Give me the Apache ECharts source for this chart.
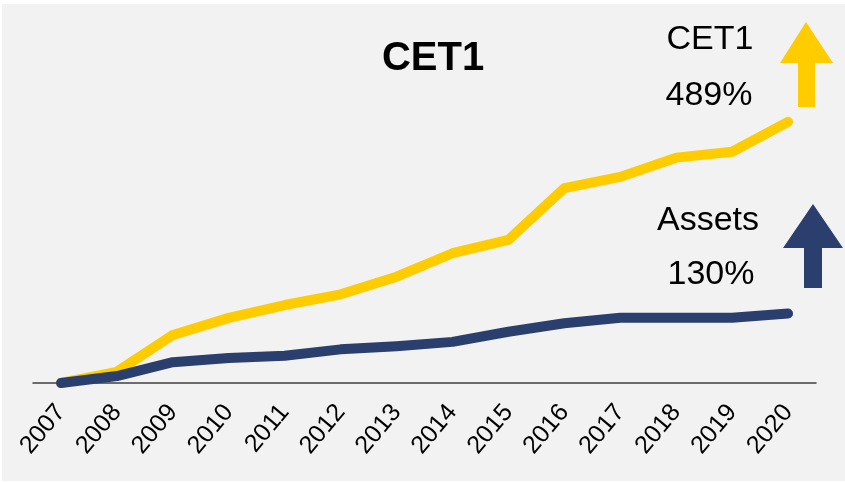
<!DOCTYPE html>
<html>
<head>
<meta charset="utf-8">
<script src="https://cdn.jsdelivr.net/npm/echarts@6/dist/echarts.min.js"></script>
<style>
  html, body { margin: 0; padding: 0; background: #fff; }
  #chart { width: 845px; height: 483px; }
</style>
</head>
<body>
<div id="chart"></div>
<script>
var years = ['2007', '2008', '2009', '2010', '2011', '2012', '2013',
             '2014', '2015', '2016', '2017', '2018', '2019', '2020'];
// 2007 = 0%, growth since 2007
var cet1 = [0, 21, 90, 122, 146, 166, 199, 243, 268, 365, 386, 422, 433, 489];
var assets = [0, 13, 39, 47, 51, 63, 69, 77, 96, 112, 122, 122, 122, 130];

var fontName = 'Liberation Sans, Arial, sans-serif';
var yellow = '#FFCC00';
var navy = '#2B3F6E';

var chart = echarts.init(document.getElementById('chart'));

var option = {
    backgroundColor: '#ffffff',
    animation: false,
    grid: {
        left: 33,
        right: 29,
        top: 116,
        bottom: 100
    },
    xAxis: {
        type: 'category',
        data: years,
        boundaryGap: true,
        axisLine: { lineStyle: { color: '#404040', width: 1.5 } },
        axisTick: { show: false },
        axisLabel: {
            rotate: 50,
            margin: 25,
            fontSize: 25,
            color: '#000',
            fontFamily: fontName,
            interval: 0
        }
    },
    yAxis: {
        type: 'value',
        min: 0,
        max: 500,
        show: false,
        splitLine: { show: false }
    },
    series: [{
        name: 'CET1',
        type: 'line',
        data: cet1,
        symbol: 'none',
        z: 2,
        lineStyle: { color: yellow, width: 10, cap: 'round', join: 'round' }
    }, {
        name: 'Assets',
        type: 'line',
        data: assets,
        symbol: 'none',
        z: 3,
        lineStyle: { color: navy, width: 10, cap: 'round', join: 'round' }
    }],
    graphic: [{
        type: 'rect',
        z: -10,
        shape: { x: 2, y: 4, width: 843, height: 477 },
        style: { fill: '#f2f2f2' }
    }, {
        type: 'text',
        x: 433, y: 59,
        style: {
            text: 'CET1', fill: '#000', font: 'bold 40px ' + fontName,
            align: 'center', verticalAlign: 'middle'
        }
    }, {
        type: 'text',
        x: 710, y: 40,
        style: {
            text: 'CET1', fill: '#000', font: '34px ' + fontName,
            align: 'center', verticalAlign: 'middle'
        }
    }, {
        type: 'text',
        x: 709, y: 96,
        style: {
            text: '489%', fill: '#000', font: '34px ' + fontName,
            align: 'center', verticalAlign: 'middle'
        }
    }, {
        type: 'text',
        x: 708, y: 221,
        style: {
            text: 'Assets', fill: '#000', font: '34px ' + fontName,
            align: 'center', verticalAlign: 'middle'
        }
    }, {
        type: 'text',
        x: 711, y: 275,
        style: {
            text: '130%', fill: '#000', font: '34px ' + fontName,
            align: 'center', verticalAlign: 'middle'
        }
    }, {
        // yellow arrow
        type: 'polygon',
        shape: {
            points: [[806, 22], [833, 63], [815, 63], [815, 107],
                     [798, 107], [798, 63], [780, 63]]
        },
        style: { fill: yellow }
    }, {
        // navy arrow
        type: 'polygon',
        shape: {
            points: [[813, 204], [843, 248], [822, 248], [822, 288],
                     [804, 288], [804, 248], [783, 248]]
        },
        style: { fill: navy }
    }]
};

chart.setOption(option);
</script>
</body>
</html>
